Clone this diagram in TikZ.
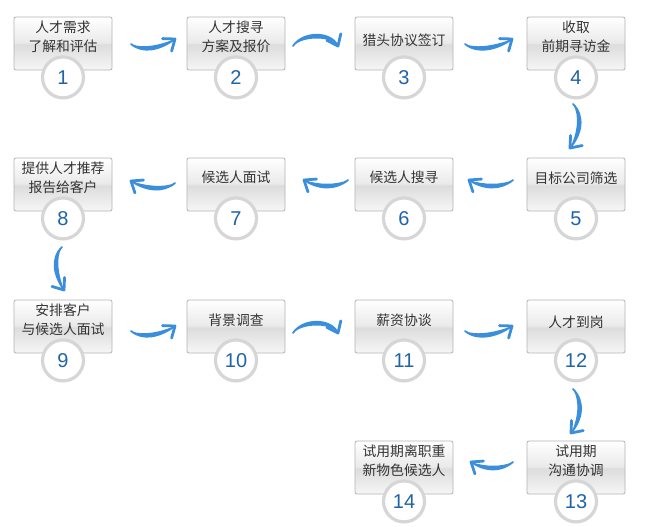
\documentclass[tikz,border=0pt]{standalone}
\usepackage{fontspec}
\setmainfont{Liberation Sans}
\newfontfamily\cjk{Noto Sans CJK SC}
\usetikzlibrary{calc}
\definecolor{boxT}{HTML}{FFFFFF}
\definecolor{boxM1}{HTML}{EAEAEA}
\definecolor{boxM2}{HTML}{DDDDDD}
\definecolor{boxB}{HTML}{F6F6F6}
\definecolor{boxline}{HTML}{B4B4B4}
\definecolor{ringc}{HTML}{D6D6D6}
\definecolor{numblue}{HTML}{1F64A8}
\definecolor{arrowblue}{HTML}{3A8EDB}
\definecolor{txt}{HTML}{333333}
\pgfdeclareverticalshading{boxshade}{100bp}{color(0bp)=(boxB); color(25bp)=(boxB); color(49bp)=(boxM2); color(51bp)=(boxM1); color(75bp)=(boxT); color(100bp)=(boxT)}
\tikzset{
  stepbox/.style={rectangle, rounded corners=2pt, draw=boxline, line width=0.8pt, shading=boxshade, minimum width=98pt, minimum height=53pt, inner sep=0pt},
  steptext/.style={font=\cjk\fontsize{13.8}{19}\selectfont, text=txt, align=center, inner sep=0pt},
  numc/.style={circle, draw=ringc, line width=3.2pt, fill=white, minimum size=41pt, inner sep=0pt, font=\fontsize{20}{20}\selectfont, text=numblue},
  brushline/.style={draw=arrowblue, line width=1.8pt, line cap=round},
  tipline/.style={draw=arrowblue, line width=2.8pt, line cap=round, line join=round},
}
\newcommand\brush[5]{%
  \coordinate (bc1) at ($(#1)+#3$);
  \coordinate (bc2) at ($(#2)+#4$);
  \coordinate (bd1) at ($(#1)+#3+#5$);
  \coordinate (bd2) at ($(#2)+#4+#5$);
  \draw[brushline] (#1) .. controls (bc1) and (bc2) .. (#2);
  \fill[arrowblue] (#1) .. controls (bc1) and (bc2) .. (#2) .. controls (bd2) and (bd1) .. (#1);
  \draw[tipline] ($(#2)!12.5pt!38:(bc2)$) -- (#2) -- ($(#2)!12.5pt!-38:(bc2)$);
}
\begin{document}
\begin{tikzpicture}[x=1pt,y=-1pt]
\useasboundingbox (0,0) rectangle (645,527);
\fill[white] (0,0) rectangle (645,527);
% boxes
\node[stepbox] (b1) at (63,43.5) {};
\node[stepbox] (b2) at (236,43.5) {};
\node[stepbox] (b3) at (404,43.5) {};
\node[stepbox] (b4) at (576,43.5) {};
\node[stepbox] (b8) at (63,184.5) {};
\node[stepbox] (b7) at (236,184.5) {};
\node[stepbox] (b6) at (404,184.5) {};
\node[stepbox] (b5) at (576,184.5) {};
\node[stepbox] (b9) at (63,326.5) {};
\node[stepbox] (b10) at (236,326.5) {};
\node[stepbox] (b11) at (404,326.5) {};
\node[stepbox] (b12) at (576,326.5) {};
\node[stepbox] (b14) at (404,467.5) {};
\node[stepbox] (b13) at (576,467.5) {};
% texts
\node[steptext] (t1) at ($(b1.north)+(0,20)$) {人才需求\\了解和评估};
\node[steptext] (t2) at ($(b2.north)+(0,20)$) {人才搜寻\\方案及报价};
\node[steptext] (t3) at ($(b3.north)+(0,24)$) {猎头协议签订};
\node[steptext] (t4) at ($(b4.north)+(0,20)$) {收取\\前期寻访金};
\node[steptext] (t5) at ($(b5.north)+(0,21)$) {目标公司筛选};
\node[steptext] (t6) at ($(b6.north)+(0,20)$) {候选人搜寻};
\node[steptext] (t7) at ($(b7.north)+(0,20)$) {候选人面试};
\node[steptext] (t8) at ($(b8.north)+(0,20)$) {提供人才推荐\\报告给客户};
\node[steptext] (t9) at ($(b9.north)+(0,20)$) {安排客户\\与候选人面试};
\node[steptext] (t10) at ($(b10.north)+(0,21)$) {背景调查};
\node[steptext] (t11) at ($(b11.north)+(0,21)$) {薪资协谈};
\node[steptext] (t12) at ($(b12.north)+(0,23)$) {人才到岗};
\node[steptext] (t13) at ($(b13.north)+(0,20)$) {试用期\\沟通协调};
\node[steptext] (t14) at ($(b14.north)+(0,20)$) {试用期离职重\\新物色候选人};
% number circles
\foreach \i in {1,...,14} {
  \node[numc] (n\i) at ($(b\i.south)+(0,7)$) {\i};
}
% arrow end points
\coordinate (s12) at (131,44);  \coordinate (e12) at (175,39);
\coordinate (s23) at (293,46);  \coordinate (e23) at (338,46);
\coordinate (s34) at (465,44);  \coordinate (e34) at (512,39);
\coordinate (s45) at (573,104); \coordinate (e45) at (570,148);
\coordinate (s56) at (513,180); \coordinate (e56) at (469,180);
\coordinate (s67) at (348,180); \coordinate (e67) at (304,180);
\coordinate (s78) at (175,183); \coordinate (e78) at (131,181);
\coordinate (s89) at (62,247);  \coordinate (e89) at (64,290);
\coordinate (s910) at (131,331); \coordinate (e910) at (175,326);
\coordinate (s1011) at (293,333); \coordinate (e1011) at (338,333);
\coordinate (s1112) at (465,331); \coordinate (e1112) at (512,326);
\coordinate (s1213) at (573,389); \coordinate (e1213) at (571,433);
\coordinate (s1314) at (513,462); \coordinate (e1314) at (471,462);
% arrows
\brush{s12}{e12}{(12,10)}{(-15,11)}{(0,-5)}
\brush{s23}{e23}{(10,-15)}{(-7,-15)}{(0,5)}
\brush{s34}{e34}{(12,10)}{(-15,11)}{(0,-5)}
\brush{s45}{e45}{(12,12)}{(12,-14)}{(-5,0)}
\brush{s56}{e56}{(-12,10)}{(15,10)}{(0,-5)}
\brush{s67}{e67}{(-12,10)}{(15,10)}{(0,-5)}
\brush{s78}{e78}{(-12,10)}{(15,10)}{(0,-5)}
\brush{s89}{e89}{(-12,12)}{(-10,-14)}{(5,0)}
\brush{s910}{e910}{(12,10)}{(-15,11)}{(0,-5)}
\brush{s1011}{e1011}{(10,-15)}{(-7,-15)}{(0,5)}
\brush{s1112}{e1112}{(12,10)}{(-15,11)}{(0,-5)}
\brush{s1213}{e1213}{(12,12)}{(12,-14)}{(-5,0)}
\brush{s1314}{e1314}{(-12,10)}{(15,10)}{(0,-5)}
\end{tikzpicture}
\end{document}
